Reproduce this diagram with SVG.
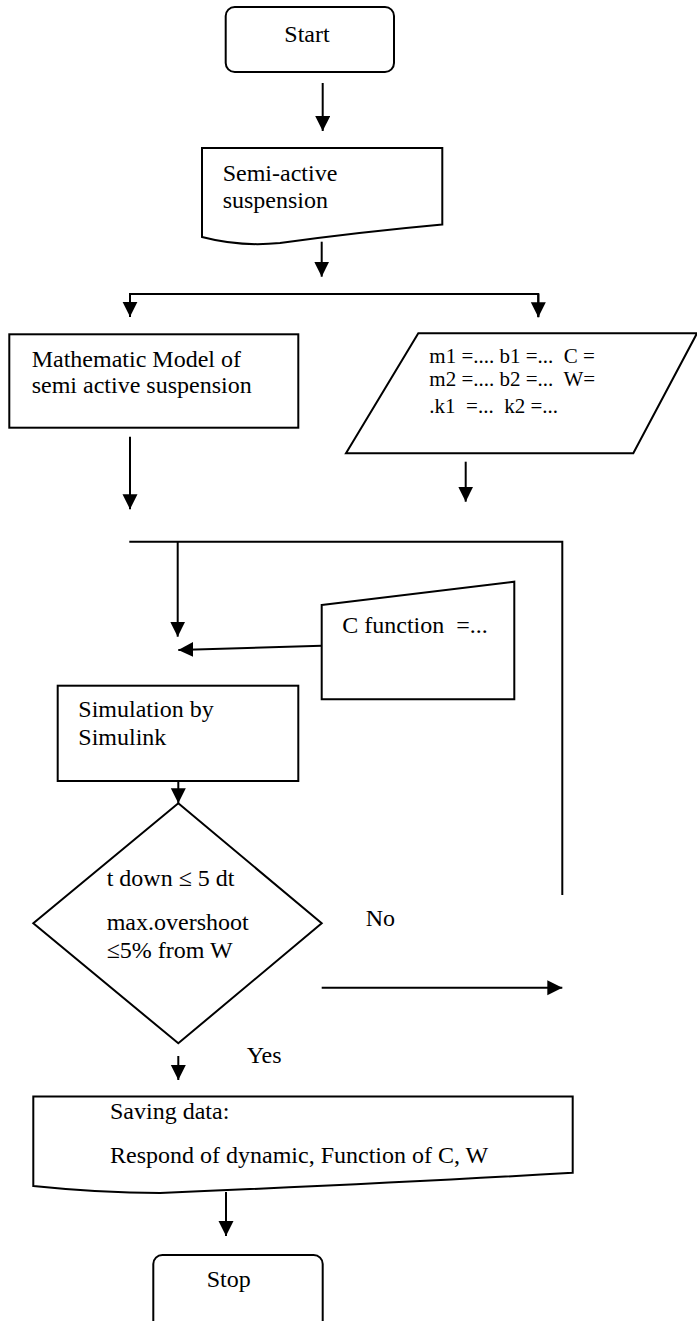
<svg xmlns="http://www.w3.org/2000/svg" width="697" height="1321" viewBox="0 0 697 1321">
<defs>
<marker id="ah" markerUnits="userSpaceOnUse" markerWidth="16" markerHeight="16" refX="15" refY="7.5" orient="auto">
<path d="M0,0 L15,7.5 L0,15 Z" fill="#000"/>
</marker>
<style>
.s{fill:#fff;stroke:#000;stroke-width:2}
.c{fill:none;stroke:#000;stroke-width:2}
.a{marker-end:url(#ah)}
text{font-family:"Liberation Serif","Times New Roman",serif;font-size:24px;fill:#000}
.p{font-size:21px;white-space:pre}
</style>
</defs>
<rect width="697" height="1321" fill="#fff"/>
<g id="connectors">
<line class="c a" x1="322.7" y1="83" x2="322.7" y2="131"/>
<line class="c a" x1="321.7" y1="241.7" x2="321.7" y2="276.7"/>
<polyline class="c" points="130,317 130,294 538.3,294 538.3,317"/>
<line class="c a" x1="130" y1="294" x2="130" y2="316.7"/>
<line class="c a" x1="538.3" y1="294" x2="538.3" y2="317.3"/>
<line class="c a" x1="130" y1="436.7" x2="130" y2="509.3"/>
<line class="c a" x1="465.7" y1="461.7" x2="465.7" y2="501.7"/>
<polyline class="c" points="129.3,541.7 562.3,541.7 562.3,895"/>
<line class="c a" x1="177.7" y1="541.7" x2="177.7" y2="636.7"/>
<line class="c a" x1="321.7" y1="645.7" x2="178.3" y2="650"/>
<line class="c a" x1="178.3" y1="781" x2="178.3" y2="803.3"/>
<line class="c a" x1="321.7" y1="987.7" x2="562.3" y2="987.7"/>
<line class="c a" x1="178.3" y1="1056" x2="178.3" y2="1080"/>
<line class="c a" x1="226" y1="1192" x2="226" y2="1236"/>
<text x="365.7" y="926">No</text>
<text x="246.7" y="1063">Yes</text>
</g>
<g id="start">
<rect class="s" x="225.7" y="7" width="168.3" height="65" rx="9"/>
<text x="284.3" y="42.3">Start</text>
</g>
<g id="semi">
<path class="s" d="M202,148 H442.3 V224.5 Q360,232 280,243 Q240,247 202,237 Z"/>
<text x="222.7" y="181">Semi-active</text>
<text x="222.7" y="208.3">suspension</text>
</g>
<g id="model">
<rect class="s" x="9.3" y="334.3" width="289" height="93.4"/>
<text x="31.7" y="367">Mathematic Model of</text>
<text x="31.7" y="393">semi active suspension</text>
</g>
<g id="params">
<polygon class="s" points="418.3,333.3 697,333.3 633.3,453.3 346,453.3"/>
<text class="p" x="429.3" y="363.3">m1 =.... b1 =...  C =</text>
<text class="p" x="429.3" y="386">m2 =.... b2 =...  W=</text>
<text class="p" x="429.3" y="412.5">.k1  =...  k2 =...</text>
</g>
<g id="cfunction">
<polygon class="s" points="321.7,605 514.3,581.7 514.3,699.3 321.7,699.3"/>
<text x="342.3" y="633.3" style="white-space:pre">C function  =...</text>
</g>
<g id="simulation">
<rect class="s" x="57.7" y="685.7" width="240.6" height="95.3"/>
<text x="78.3" y="716.7">Simulation by</text>
<text x="78.3" y="745">Simulink</text>
</g>
<g id="decision">
<polygon class="s" points="178.3,803.3 321.7,923.3 178.3,1043.3 33.3,923.3"/>
<text x="106.7" y="885.5">t down ≤ 5 dt</text>
<text x="106.7" y="930">max.overshoot</text>
<text x="106.7" y="958">≤5% from W</text>
</g>
<g id="saving">
<path class="s" d="M33.3,1096.5 H572.7 V1172.7 Q400,1183 160,1193 Q100,1193 33.3,1186 Z"/>
<text x="110" y="1119">Saving data:</text>
<text x="110" y="1163">Respond of dynamic, Function of C, W</text>
</g>
<g id="stop">
<rect class="s" x="153.3" y="1255" width="169.4" height="110" rx="9"/>
<text x="206.7" y="1287">Stop</text>
</g>
</svg>
